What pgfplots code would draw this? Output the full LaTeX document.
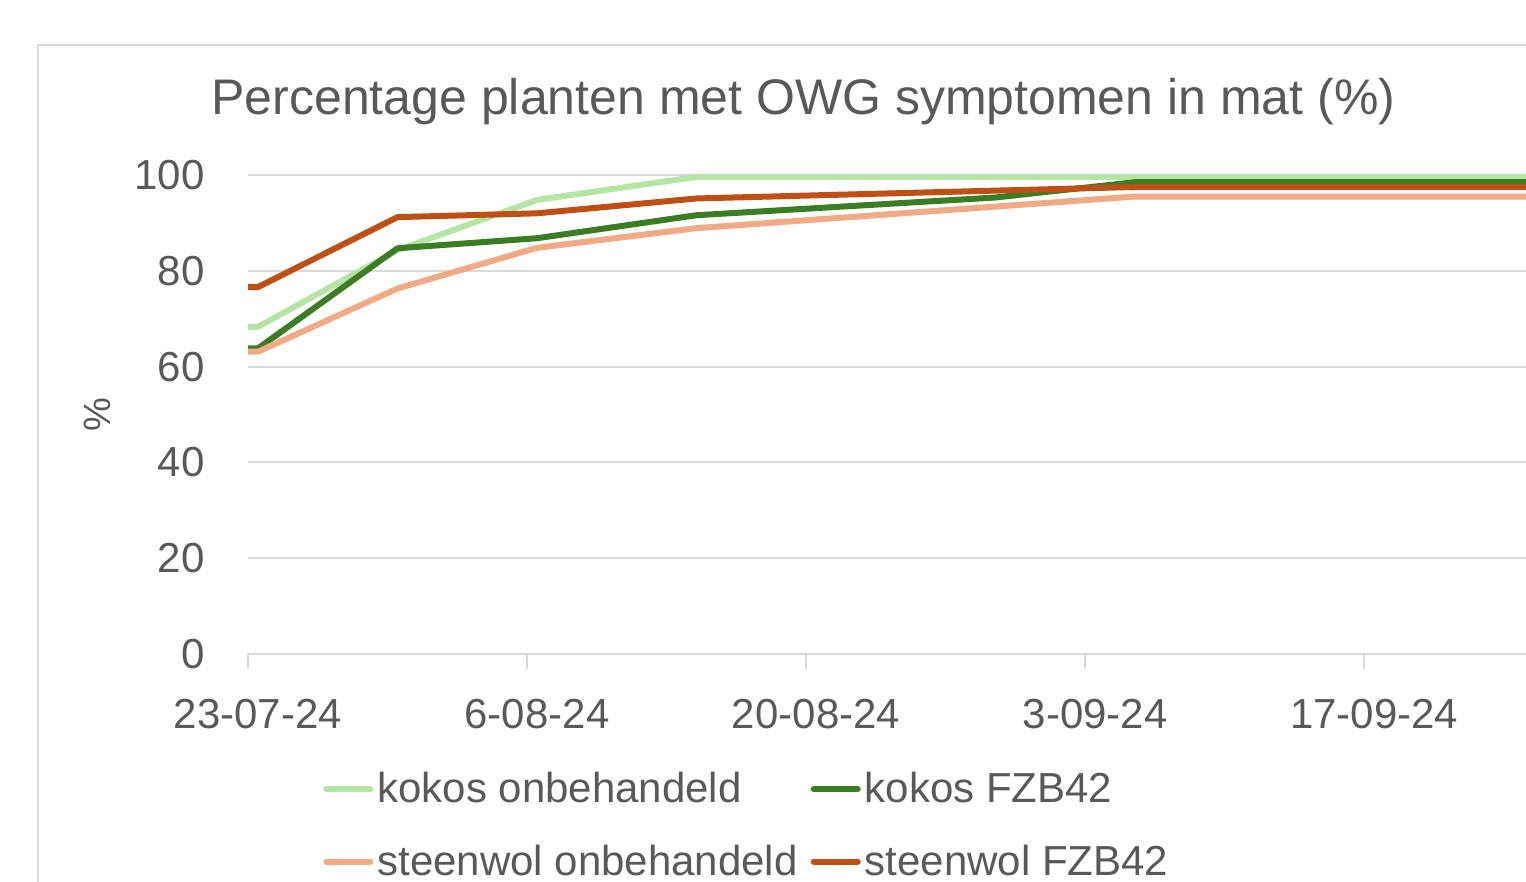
\documentclass[border=0pt]{standalone}
\usepackage{fontspec}
\setmainfont{Liberation Sans}
\usepackage{pgfplots}
\pgfplotsset{compat=1.18}
\definecolor{lgreen}{HTML}{B4E5A2}
\definecolor{dgreen}{HTML}{3B7D23}
\definecolor{lorange}{HTML}{F2AA84}
\definecolor{dorange}{HTML}{C04F15}
\definecolor{txtgray}{HTML}{595959}
\definecolor{gridgray}{HTML}{D9D9D9}
\begin{document}
\begin{tikzpicture}
\path[use as bounding box] (0,0) rectangle (763pt,441pt);
\clip (0,0) rectangle (763pt,441pt);
\draw[gridgray, line width=1pt] (19pt,-10pt) -- (19pt,418.5pt) -- (800pt,418.5pt);
\begin{axis}[
  at={(124pt,114pt)}, anchor=south west,
  scale only axis, width=657.7pt, height=239.5pt,
  xmin=0, xmax=66, ymin=0, ymax=100,
  clip=false,
  axis line style={draw=none},
  ymajorgrids, grid style={draw=gridgray, line width=1pt},
  ytick={0,20,40,60,80,100},
  ytick style={draw=none},
  xtick={0,14,28,42,56},
  xticklabels={23-07-24,6-08-24,20-08-24,3-09-24,17-09-24},
  xtick pos=bottom, tick align=outside, major tick length=7.5pt,
  xtick style={draw=gridgray, line width=1pt},
  tick label style={font=\fontsize{21}{25}\selectfont, text=txtgray},
  /pgf/number format/assume math mode=true,
  yticklabel style={anchor=east, inner sep=0pt, xshift=-14pt},
  xticklabel style={anchor=base, inner sep=0pt, yshift=-30pt, xshift=5pt},
  ylabel={\%},
  ylabel style={at={(axis description cs:-0.1148,0.5)}, anchor=center, font=\fontsize{19}{23}\selectfont, text=txtgray},
  title={Percentage planten met OWG symptomen in mat (\%)},
  title style={at={(axis description cs:0.4223,1.1253)}, anchor=base, yshift=-6pt, font=\fontsize{25}{30}\selectfont, text=txtgray, inner sep=0pt},
  every axis plot/.append style={line width=3pt, line join=round},
  legend columns=2,
  legend cell align=left,
  legend image code/.code={\draw[#1, line cap=round] (1.5pt,0pt) -- (23.5pt,0pt);},
  legend style={at={(axis description cs:0.0570,-0.2463)}, anchor=north west, draw=none, fill=none,
    font=\fontsize{21}{25}\selectfont, text=txtgray, inner sep=0pt,
    nodes={inner sep=0pt}, column sep=2pt, row sep=19.5pt,
    /tikz/every even column/.append style={column sep=6.5pt}},
]
\addplot[lgreen] coordinates {(0,68.3) (0.5,68.3) (7.5,84.3) (14.5,94.8) (22.5,99.6) (44.5,99.6) (70,99.6)};
\addlegendentry{kokos onbehandeld}
\addplot[dgreen] coordinates {(0,63.8) (0.5,63.8) (7.5,84.7) (14.5,86.8) (22.5,91.6) (37.5,95.3) (44.5,98.5) (70,98.5)};
\addlegendentry{kokos FZB42}
\addplot[lorange] coordinates {(0,63.1) (0.5,63.1) (7.5,76.3) (14.5,84.8) (22.5,88.9) (44.5,95.5) (70,95.5)};
\addlegendentry{steenwol onbehandeld}
\addplot[dorange] coordinates {(0,76.6) (0.5,76.6) (7.5,91.2) (14.5,92.0) (22.5,95.1) (44.5,97.5) (70,97.5)};
\addlegendentry{steenwol FZB42}
\end{axis}
\end{tikzpicture}
\end{document}
